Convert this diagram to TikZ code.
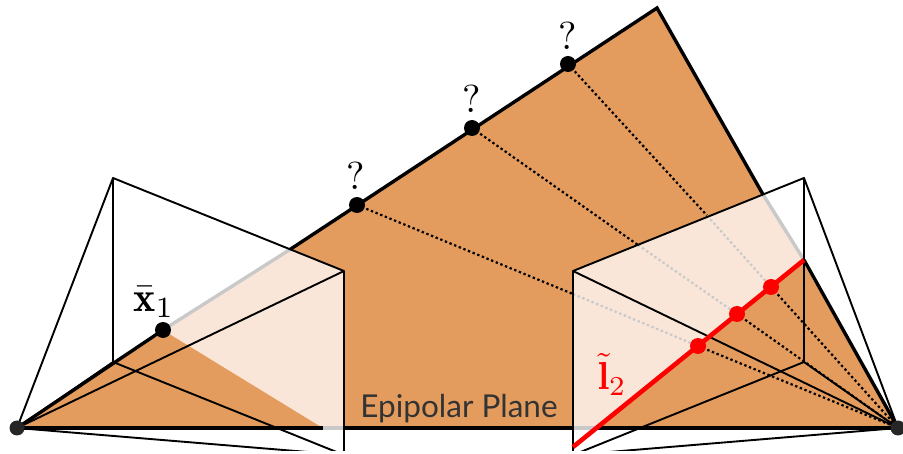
\documentclass[tikz,border=0pt]{standalone}
\usepackage{fontspec}
\usepackage{amsmath}
\newfontfamily\labelfontb{Lato}
\definecolor{planeorange}{HTML}{E49C5E}
\definecolor{paleorange}{HTML}{F9E6D8}
\definecolor{fadegray}{HTML}{C9C9C9}
\definecolor{epred}{HTML}{FF0000}
\tikzset{
  wire/.style={draw=black,line width=1.9pt},
  thick edge/.style={draw=black,line width=3.4pt},
  fade edge/.style={draw=fadegray,line width=3.4pt},
  ray/.style={draw=black,line width=2.2pt,dash pattern=on 2.4pt off 2.6pt},
  fade ray/.style={draw=fadegray,line width=2.2pt,dash pattern=on 2.4pt off 2.6pt},
  blackdot/.style={circle,fill=black,minimum size=16pt,inner sep=0pt},
  reddot/.style={circle,fill=epred,minimum size=16pt,inner sep=0pt},
  camdot/.style={circle,fill=black!85,minimum size=15pt,inner sep=0pt},
  qmark/.style={scale=3.9,inner sep=0pt},
}
\begin{document}
\begin{tikzpicture}[x=1pt,y=-1pt]
\useasboundingbox (0,0) rectangle (903,454);
% main points
\coordinate (C1) at (17,428);
\coordinate (C2) at (898,428);
\coordinate (A) at (657,8);
\coordinate (X) at (163,330);
\coordinate (P1) at (357,205);
\coordinate (P2) at (472,128);
\coordinate (P3) at (568,64);
\coordinate (R1) at (698,346);
\coordinate (R2) at (737,314);
\coordinate (R3) at (771,287);
% left image plane
\coordinate (LA) at (113,178);
\coordinate (LB) at (344,271);
\coordinate (LC) at (113,362);
\coordinate (LD) at (344,455);
\coordinate (LE) at (290,249.5);
\coordinate (LF) at (323,428);
\coordinate (LG) at (344,428);
% right image plane
\coordinate (RA) at (804,178);
\coordinate (RB) at (573,271);
\coordinate (RC) at (804,362);
\coordinate (RD) at (573,455);
\coordinate (RE) at (763,194.5);
\coordinate (RF) at (804,260);
\coordinate (RG) at (573,447);
\coordinate (RH) at (573,428);
\coordinate (RI) at (595,428);
% crossings of rays with the top of the right plane
\coordinate (Q1) at (573,294);
\coordinate (Q2) at (638,245);
\coordinate (Q3) at (707,215.5);
% plane
\fill[planeorange] (C1) -- (A) -- (C2) -- cycle;
% pale see-through parts
\fill[paleorange] (X) -- (LE) -- (LB) -- (LG) -- (LF) -- cycle;
\fill[paleorange] (RB) -- (RE) -- (RF) -- (RI) -- (RH) -- cycle;
% plane outline
\draw[thick edge] (C1) -- (X);
\draw[thick edge,line cap=round] (LE) -- (A) -- (RE);
\draw[thick edge] (RF) -- (C2);
\draw[thick edge] (C1) -- (LF);
\draw[thick edge] (LG) -- (RH);
\draw[thick edge] (RI) -- (C2);
\draw[fade edge] (X) -- (LE);
\draw[fade edge] (RE) -- (RF);
\draw[fade edge] (LF) -- (LG);
\draw[fade edge] (RH) -- (RI);
% dotted rays
\draw[ray] (P1) -- (Q1);
\draw[ray] (P2) -- (Q2);
\draw[ray] (P3) -- (Q3);
\draw[fade ray] (Q1) -- (R1);
\draw[fade ray] (Q2) -- (R2);
\draw[fade ray] (Q3) -- (R3);
\draw[ray] (R1) -- (C2);
\draw[ray] (R2) -- (C2);
\draw[ray] (R3) -- (C2);
% camera frusta, cut at the lower border
\begin{scope}
\clip (0,0) rectangle (903,450.5);
\draw[wire] (C1) -- (LA);
\draw[wire] (C1) -- (LB);
\draw[wire] (C1) -- (LC);
\draw[wire] (C1) -- (LD);
\draw[wire,line join=round] (LC) -- (LA) -- (LB) -- (LD);
\draw[wire] (LC) -- (LD);
\draw[wire] (C2) -- (RA);
\draw[wire] (C2) -- (RB);
\draw[wire] (C2) -- (RC);
\draw[wire] (C2) -- (RD);
\draw[wire,line join=round] (RC) -- (RA) -- (RB) -- (RD);
\draw[wire] (RC) -- (RD);
\end{scope}
% epipolar line
\draw[draw=epred,line width=4.6pt] (RG) -- (RF);
% points
\node[blackdot] (d0) at (X) {};
\node[blackdot] (d1) at (P1) {};
\node[blackdot] (d2) at (P2) {};
\node[blackdot] (d3) at (P3) {};
\node[reddot] (r1) at (R1) {};
\node[reddot] (r2) at (R2) {};
\node[reddot] (r3) at (R3) {};
\node[camdot] (c1) at (C1) {};
\node[camdot] (c2) at (C2) {};
% labels
\node[qmark] (q1) at (355.5,176) {?};
\node[qmark] (q2) at (472,99) {?};
\node[qmark] (q3) at (568,36) {?};
\node[inner sep=0pt,scale=4.2] (xl) at (154,302) {$\bar{\mathbf{x}}_1$};
\node[inner sep=0pt,text=epred,scale=3.9] (ll) at (612.5,374.5) {$\tilde{\mathbf{l}}_2$};
\node[inner sep=0pt,text=black!80,font=\labelfontb\fontsize{31.5}{32}\selectfont] (ep) at (459,409) {Epipolar Plane};
\end{tikzpicture}
\end{document}
